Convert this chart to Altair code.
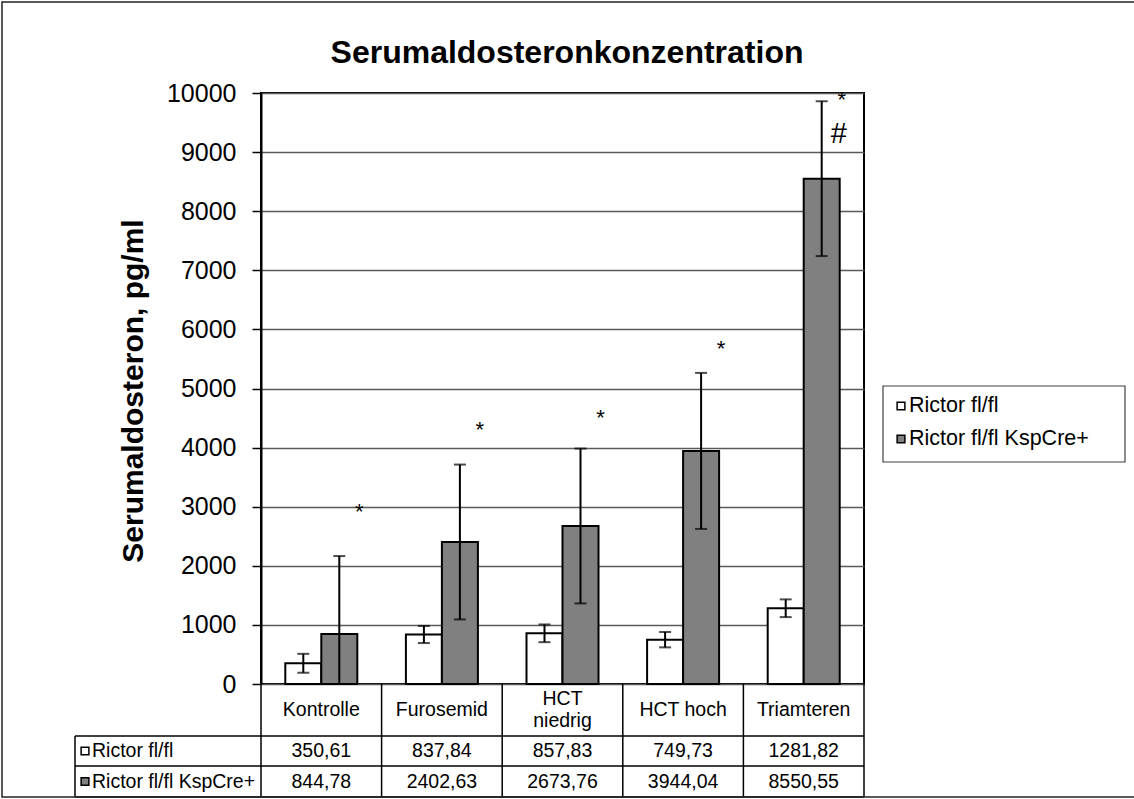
import altair as alt
import pandas as pd

# ---- data -------------------------------------------------------------
categories = ["Kontrolle", "Furosemid", "HCT niedrig", "HCT hoch", "Triamteren"]
header_labels = ["Kontrolle", "Furosemid", "HCT\nniedrig", "HCT hoch", "Triamteren"]
series_names = ["Rictor fl/fl", "Rictor fl/fl KspCre+"]
series_fill = ["#ffffff", "#808080"]

control_mean = [350.61, 837.84, 857.83, 749.73, 1281.82]
ksp_mean = [844.78, 2402.63, 2673.76, 3944.04, 8550.55]
control_err = [160, 145, 150, 130, 150]
ksp_err = [1320, 1310, 1310, 1320, 1310]

# significance markers (height on the value axis)
star_level = [2910, 4300, 4500, 5670, 9880]
hash_category = ["Triamteren"]
hash_level = [9300]

y_ticks = list(range(0, 10001, 1000))

# ---- layout -----------------------------------------------------------
W, H = 603, 591            # plot area
PAD_L, PAD_T = 261, 93
ROW_H = [52, 30, 31]       # header row, value rows of the data table
TABLE_LEFT = 186           # width of the row-label column
FONT = "Liberation Sans"

rows = []
for name, means, errs in [(series_names[0], control_mean, control_err),
                          (series_names[1], ksp_mean, ksp_err)]:
    for cat, m, e in zip(categories, means, errs):
        rows.append(dict(category=cat, series=name, value=m,
                         lo=max(0.0, m - e), hi=m + e,
                         txt=f"{m:.2f}".replace(".", ",")))
df = pd.DataFrame(rows)

x_scale = alt.Scale(domain=categories, paddingInner=0, paddingOuter=0)
x_enc = alt.X("category:N", scale=x_scale, axis=None)
xo_enc = alt.XOffset("series:N", scale=alt.Scale(domain=series_names,
                                                 paddingInner=0, paddingOuter=0.675))
fill_enc = alt.Fill("series:N", scale=alt.Scale(domain=series_names, range=series_fill),
                    legend=None)

y_axis = alt.Axis(values=y_ticks, format="d", title="Serumaldosteron, pg/ml",
                  labelFont=FONT, labelFontSize=25, labelColor="black",
                  labelPadding=16, tickSize=9, tickColor="black", tickWidth=1.5,
                  domainColor="black", domainWidth=2,
                  grid=True, gridColor="#595959", gridWidth=1.5,
                  titleFont=FONT, titleFontSize=30, titleFontWeight="bold",
                  titleColor="black", titleX=-128, titleY=H / 2 + 2,
                  titleBaseline="middle")
y_enc = alt.Y("value:Q", scale=alt.Scale(domain=[0, 10000], nice=False), axis=y_axis)

base = alt.Chart(df)

bars = base.mark_bar(stroke="black", strokeWidth=2).encode(
    x=x_enc, xOffset=xo_enc, y=y_enc, fill=fill_enc)

err_line = base.mark_rule(color="black", strokeWidth=2).encode(
    x=x_enc, xOffset=xo_enc, y="lo:Q", y2="hi:Q")
cap_hi = base.mark_tick(color="black", thickness=2, size=12).encode(
    x=x_enc, xOffset=xo_enc, y="hi:Q")
cap_lo = base.transform_filter("datum.lo > 0").mark_tick(
    color="black", thickness=2, size=12).encode(x=x_enc, xOffset=xo_enc, y="lo:Q")

stars = alt.Chart(pd.DataFrame({"category": categories, "level": star_level})).mark_text(
    text="*", font=FONT, fontSize=22, dx=38, baseline="middle", color="black").encode(
    x=x_enc, y="level:Q")
hashes = alt.Chart(pd.DataFrame({"category": hash_category, "level": hash_level})).mark_text(
    text="#", font=FONT, fontSize=29, dx=35, baseline="middle", color="black").encode(
    x=x_enc, y="level:Q")

title = alt.Chart(pd.DataFrame({"t": ["Serumaldosteronkonzentration"]})).mark_text(
    font=FONT, fontSize=32, fontWeight="bold", align="center", baseline="alphabetic",
    color="black").encode(x=alt.value(306), y=alt.value(-30), text="t:N")

# ---- data table under the plot -----------------------------------------
y_head = H + ROW_H[0] / 2
y_row1 = H + ROW_H[0] + ROW_H[1] / 2
y_row2 = H + ROW_H[0] + ROW_H[1] + ROW_H[2] / 2
table_bottom = H + sum(ROW_H)

head_df = pd.DataFrame({"category": categories, "lab": header_labels})
header_single = alt.Chart(head_df).transform_filter(
    "indexof(datum.lab, '\\n') < 0").mark_text(
    font=FONT, fontSize=19.5, baseline="middle", color="black").encode(
    x=x_enc, y=alt.value(y_head), text="lab:N")
header_multi = alt.Chart(head_df).transform_filter(
    "indexof(datum.lab, '\\n') >= 0").mark_text(
    font=FONT, fontSize=19.5, lineBreak="\n", lineHeight=22, baseline="middle",
    dy=-11, color="black").encode(
    x=x_enc, y=alt.value(y_head), text="lab:N")

values_rows = []
for i, (name, ypos) in enumerate(zip(series_names, [y_row1, y_row2])):
    values_rows.append(
        base.transform_filter(alt.datum.series == name).mark_text(
            font=FONT, fontSize=19.5, baseline="middle", color="black").encode(
            x=x_enc, y=alt.value(ypos), text="txt:N"))

one = pd.DataFrame({"k": [0]})


def hline(y, x0, x1, color="black", width=1.5):
    return alt.Chart(one).mark_rule(color=color, strokeWidth=width).encode(
        x=alt.value(x0), x2=alt.value(x1), y=alt.value(y))


def vline(x, y0, y1, color="black", width=1.5):
    return alt.Chart(one).mark_rule(color=color, strokeWidth=width).encode(
        x=alt.value(x), y=alt.value(y0), y2=alt.value(y1))


col_lines = alt.Chart(pd.DataFrame({"category": categories})).mark_rule(
    color="black", strokeWidth=1.5).encode(
    x=alt.X("category:N", scale=x_scale, axis=None, bandPosition=0),
    y=alt.value(H), y2=alt.value(table_bottom))

table_lines = [
    col_lines,
    vline(W, H, table_bottom),
    vline(-TABLE_LEFT, H + ROW_H[0], table_bottom),
    hline(H + ROW_H[0], -TABLE_LEFT, W),
    hline(H + ROW_H[0] + ROW_H[1], -TABLE_LEFT, W),
    hline(table_bottom, -TABLE_LEFT, W),
]

row_keys = []
for i, (name, col, ypos) in enumerate(zip(series_names, series_fill, [y_row1, y_row2])):
    row_keys.append(alt.Chart(one).mark_point(
        shape="square", size=60, filled=True, fill=col, stroke="black", strokeWidth=1.5,
        opacity=1).encode(x=alt.value(-TABLE_LEFT + 10), y=alt.value(ypos)))
    row_keys.append(alt.Chart(pd.DataFrame({"t": [name]})).mark_text(
        font=FONT, fontSize=19.5, align="left", baseline="middle", color="black").encode(
        x=alt.value(-TABLE_LEFT + 17), y=alt.value(ypos), text="t:N"))

# ---- legend box on the right -------------------------------------------
legend_layers = [alt.Chart(one).mark_rect(fill="white", stroke="#404040", strokeWidth=1.2).encode(
    x=alt.value(622), x2=alt.value(864), y=alt.value(293), y2=alt.value(369))]
for i, (name, col) in enumerate(zip(series_names, series_fill)):
    ypos = 313 + i * 33
    legend_layers.append(alt.Chart(one).mark_point(
        shape="square", size=60, filled=True, fill=col, stroke="black", strokeWidth=1.5,
        opacity=1).encode(x=alt.value(640), y=alt.value(ypos)))
    legend_layers.append(alt.Chart(pd.DataFrame({"t": [name]})).mark_text(
        font=FONT, fontSize=21.5, align="left", baseline="middle", color="black").encode(
        x=alt.value(648), y=alt.value(ypos), text="t:N"))

frame = alt.Chart(one).mark_rect(fillOpacity=0, stroke="#222222", strokeWidth=1.5).encode(
    x=alt.value(-PAD_L + 2), x2=alt.value(W + 300), y=alt.value(-PAD_T + 2),
    y2=alt.value(table_bottom))

chart = alt.layer(
    bars, err_line, cap_hi, cap_lo, stars, hashes, title, header_single, header_multi,
    *values_rows, *table_lines, *row_keys, *legend_layers, frame,
).properties(
    width=W, height=H,
    autosize=alt.AutoSizeParams(type="none"),
    padding={"left": PAD_L, "top": PAD_T, "right": 1134 - PAD_L - W, "bottom": 799 - PAD_T - H},
).configure(font=FONT).configure_view(stroke="black", strokeWidth=2)

chart.save("out.html", embed_options={"renderer": "svg", "actions": False})
